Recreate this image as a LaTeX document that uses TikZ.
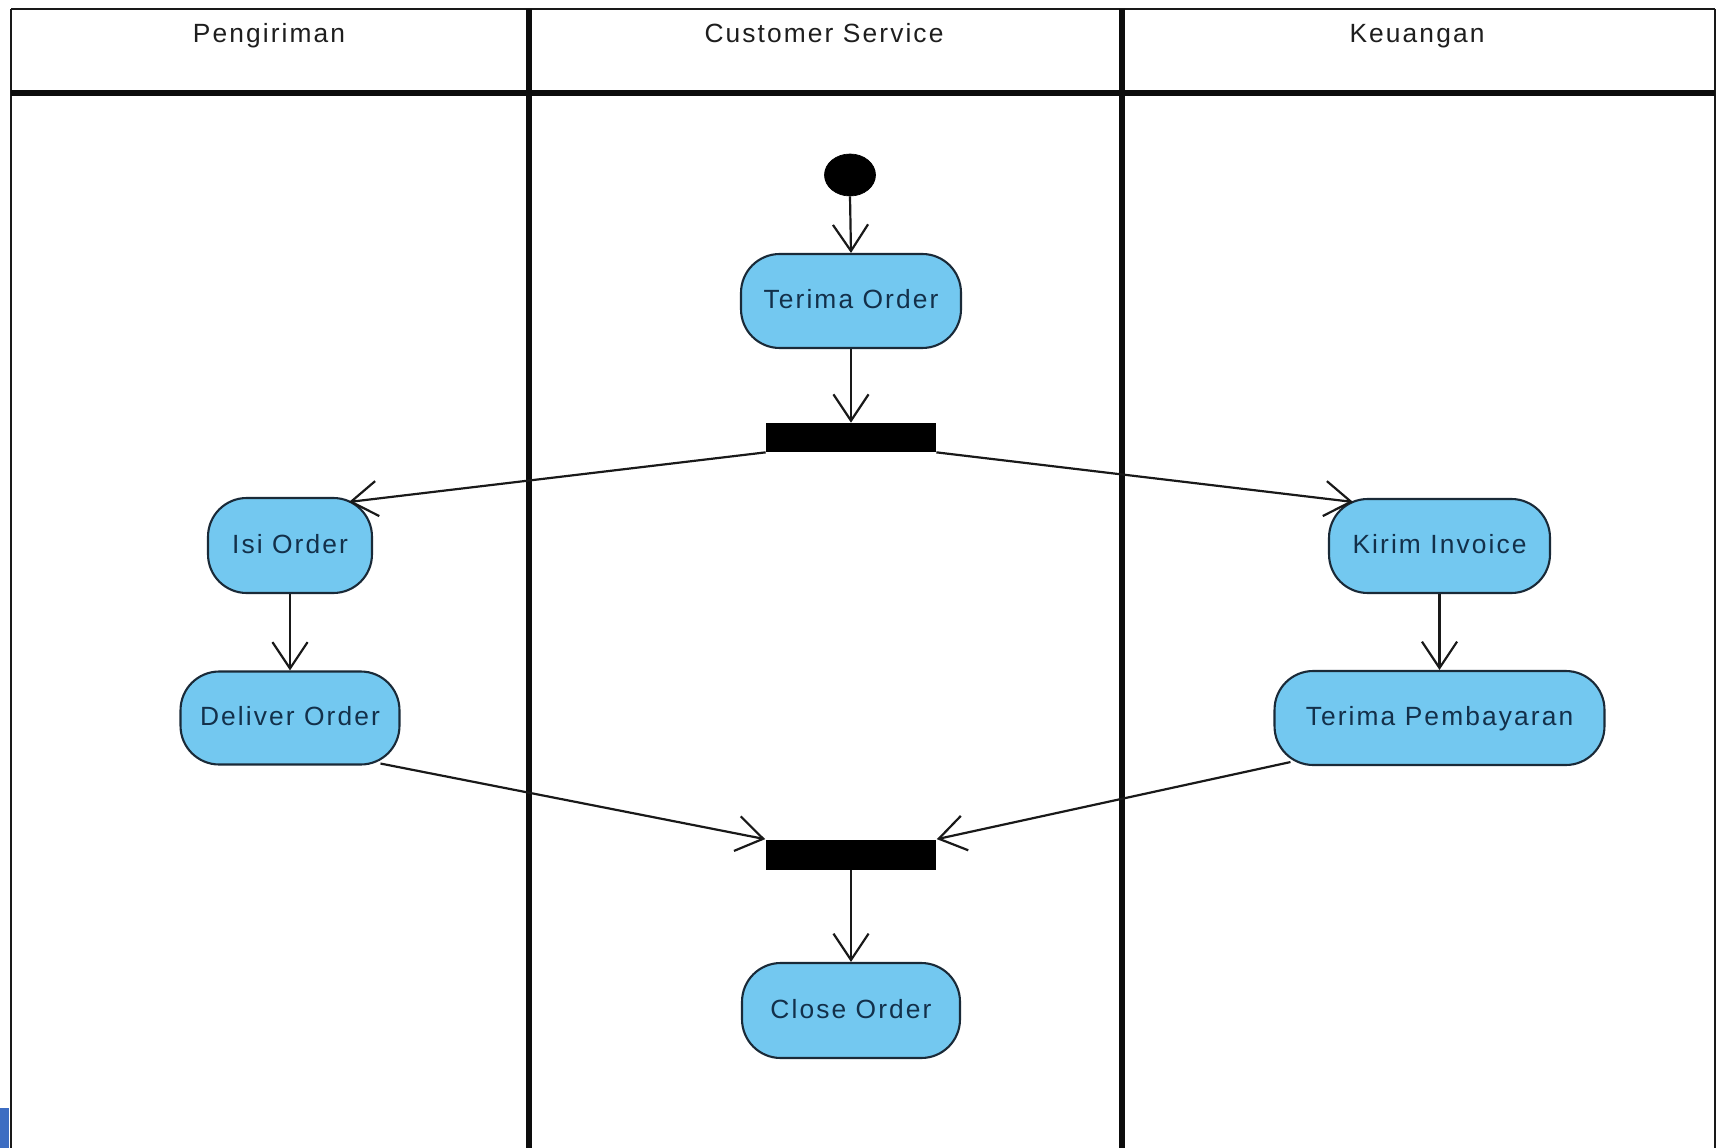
\documentclass[tikz,border=0pt]{standalone}
\usepackage{fontspec}
\setmainfont{Liberation Sans}[LetterSpace=8]
\usetikzlibrary{arrows.meta,calc,shapes.geometric}
\definecolor{actfill}{HTML}{73C8F0}
\definecolor{acttext}{HTML}{13304A}
\definecolor{actline}{HTML}{1A2A38}
\definecolor{artblue}{HTML}{3D6DC2}
\definecolor{lanetext}{HTML}{1E1E1E}
\begin{document}
\begin{tikzpicture}[x=0.02cm,y=-0.02cm,
  act/.style={draw=actline, line width=1.2pt, fill=actfill, rounded corners=22pt,
    text=acttext, font=\fontsize{15}{17}\selectfont, inner sep=0pt, align=center,
    text height=10.7pt, text depth=2pt},
  bar/.style={fill=black, draw=none, inner sep=0pt},
  startnode/.style={ellipse, fill=black, draw=black, inner sep=0pt, minimum width=1.02cm, minimum height=0.84cm},
  hdr/.style={text=lanetext, font=\fontsize{15}{17}\selectfont, inner sep=0pt, anchor=base},
  flow/.style={draw=black!90, line width=1.25pt, -{Straight Barb[length=15pt,width=20pt,line width=1.25pt]}},
  thin/.style={draw=black!90, line width=1.4pt},
  thick/.style={draw=black!95, line width=2.9pt}
]
\clip (0,0) rectangle (1717,1148);
\fill[white] (0,0) rectangle (1717,1148);
% swimlane frame
\draw[thin] (11,9) -- (1715,9);
\draw[thin] (11,9) -- (11,1160);
\draw[thin] (1715,9) -- (1715,1160);
\draw[thick] (11,93) -- (1715,93);
\draw[thick] (529,9) -- (529,1160);
\draw[thick] (1122,9) -- (1122,1160);
% stray fragment at bottom-left
\fill[artblue] (0,1108) rectangle (9,1148);
% lane headers
\node[hdr] (hA) at (269,43) {Pengiriman};
\node[hdr] (hB) at (824,43) {Customer Service};
\node[hdr] (hC) at (1417,43) {Keuangan};
% nodes
\node[startnode] (init) at (850,175) {};
\node[act, minimum width=4.4cm, minimum height=1.88cm] (terima) at (851,301) {Terima Order};
\node[bar, minimum width=3.4cm, minimum height=0.58cm] (fork) at (851,437.5) {};
\node[act, minimum width=3.28cm, minimum height=1.9cm] (isi) at (290,545.5) {Isi Order};
\node[act, minimum width=4.38cm, minimum height=1.86cm] (deliver) at (290,718) {Deliver Order};
\node[act, minimum width=4.42cm, minimum height=1.88cm] (kirim) at (1439.5,546) {Kirim Invoice};
\node[act, minimum width=6.6cm, minimum height=1.88cm] (bayar) at (1439.5,718) {Terima Pembayaran};
\node[bar, minimum width=3.42cm, minimum height=0.6cm] (join) at (851,854.5) {};
\node[act, minimum width=4.36cm, minimum height=1.9cm] (close) at (851,1010.5) {Close Order};
% connectors
\draw[flow] (init.south) -- (terima.north);
\draw[flow] (terima.south) -- (fork.north);
\draw[flow] (fork.south west) -- ($(isi.north east)+(-24,5)$);
\draw[flow] (fork.south east) -- ($(kirim.north west)+(25,4)$);
\draw[flow] (isi.south) -- (deliver.north);
\draw[flow] (kirim.south) -- (bayar.north);
\draw[flow] ($(deliver.south east)+(-20,-2)$) -- (join.north west);
\draw[flow] ($(bayar.south west)+(17,-4)$) -- (join.north east);
\draw[flow] (join.south) -- (close.north);
\end{tikzpicture}
\end{document}
